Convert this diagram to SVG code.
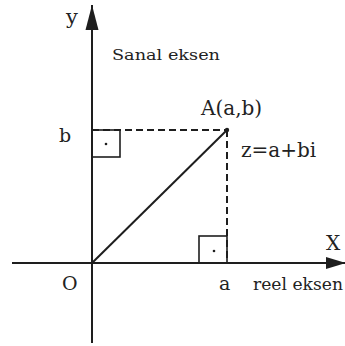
<svg xmlns="http://www.w3.org/2000/svg" width="345" height="346" viewBox="0 0 345 346">
<style>
.ax{stroke:#1e1e1e;stroke-width:2;fill:none}
.ds{stroke:#1e1e1e;stroke-width:2;fill:none;stroke-dasharray:7,4}
.sq{stroke:#1e1e1e;stroke-width:1.6;fill:none}
text{font-family:"DejaVu Serif",serif;fill:#222}
</style>
<defs>
<marker id="ah" markerWidth="20" markerHeight="14" refX="19" refY="7" orient="auto" markerUnits="userSpaceOnUse">
<path d="M0,1 L20,7 L0,13 Z" fill="#1e1e1e"/>
</marker>
<marker id="ahy" markerWidth="26" markerHeight="14" refX="25" refY="7" orient="auto" markerUnits="userSpaceOnUse">
<path d="M0,0.5 L25,7 L0,13.5 Z" fill="#1e1e1e"/>
</marker>
</defs>
<rect width="345" height="346" fill="#fff"/>
<g id="connectors">
<line class="ax" x1="92" y1="343" x2="92" y2="5" marker-end="url(#ahy)"/>
<line class="ax" x1="12" y1="263" x2="345" y2="263" marker-end="url(#ah)"/>
<line class="ds" x1="92" y1="130" x2="227" y2="130"/>
<line class="ds" x1="227" y1="130" x2="227" y2="263"/>
<line class="ax" x1="92" y1="263" x2="227" y2="130"/>
</g>
<g id="rightangle-b">
<rect class="sq" x="92" y="130" width="28" height="27"/>
<circle cx="106" cy="144" r="1.3" fill="#1e1e1e"/>
</g>
<g id="rightangle-a">
<rect class="sq" x="199" y="236" width="28" height="27"/>
<circle cx="214" cy="251" r="1.3" fill="#1e1e1e"/>
</g>
<g id="point-A">
<circle cx="227" cy="130" r="2.2" fill="#1e1e1e"/>
<text x="201" y="115" font-size="20">A(a,b)</text>
</g>
<g id="labels">
<text x="66" y="24" font-size="21">y</text>
<text x="112" y="60" font-size="15" textLength="108" lengthAdjust="spacingAndGlyphs">Sanal eksen</text>
<text x="59" y="142" font-size="19">b</text>
<text x="241" y="157" font-size="20">z=a+bi</text>
<text x="62" y="290" font-size="19">O</text>
<text x="219" y="290" font-size="19">a</text>
<text x="253" y="290" font-size="17" textLength="90" lengthAdjust="spacingAndGlyphs">reel eksen</text>
<text x="326" y="250" font-size="20">X</text>
</g>
</svg>
